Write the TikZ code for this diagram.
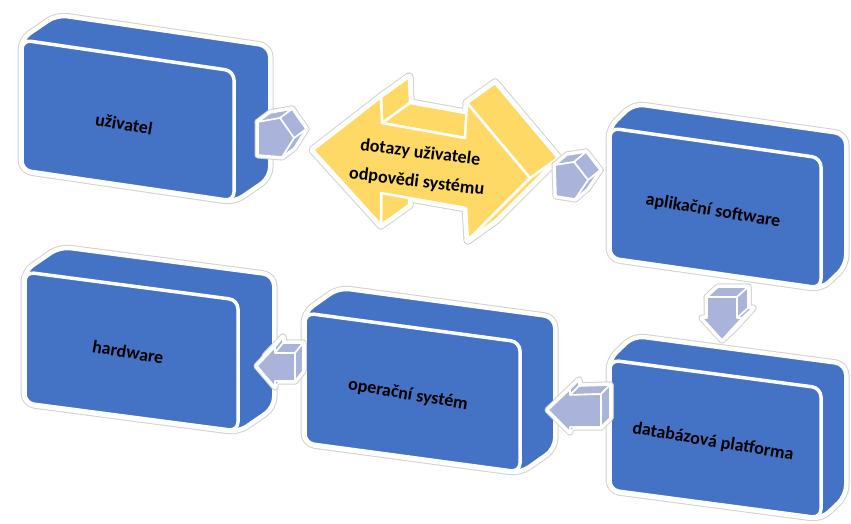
\documentclass[tikz,border=0pt]{standalone}
\usepackage{fontspec}
\setmainfont{Carlito}
\usetikzlibrary{calc}
\definecolor{boxblue}{HTML}{4472C4}
\definecolor{arrowyellow}{HTML}{FFD966}
\definecolor{smallarrow}{HTML}{AAB4DA}
\definecolor{halogray}{HTML}{D2D2D2}
\tikzset{
  haloA/.style={draw=halogray, line width=9pt, line join=round},
  haloB/.style={draw=white, line width=7pt, line join=round},
  shaloA/.style={draw=halogray, line width=7pt, line join=round},
  shaloB/.style={draw=white, line width=5pt, line join=round},
  boxsil/.style={fill=boxblue, draw=white, line width=2pt},
  boxfront/.style={fill=boxblue, draw=white, line width=3.5pt},
  yfill/.style={fill=arrowyellow, draw=white, line width=2.5pt, line join=round},
  sfill/.style={fill=smallarrow, draw=white, line width=1.6pt, line join=round},
  boxtext/.style={font=\bfseries\fontsize{18}{29}\selectfont, text=black, inner sep=0pt},
}
\newcommand{\cubebox}[8]{%
  \coordinate (#1-ftl) at (#2,#3);
  \coordinate (#1-ftr) at ($(#1-ftl)+(#4,#6)$);
  \coordinate (#1-fbr) at ($(#1-ftr)+(0,#5)$);
  \coordinate (#1-fbl) at ($(#1-ftl)+(0,#5)$);
  \coordinate (#1-btl) at ($(#1-ftl)+(#7,#8)$);
  \coordinate (#1-btr) at ($(#1-ftr)+(#7,#8)$);
  \coordinate (#1-bbr) at ($(#1-fbr)+(#7,#8)$);
  \path[haloA,rounded corners=10pt] (#1-fbl) -- (#1-ftl) -- (#1-btl) -- (#1-btr) -- (#1-bbr) -- (#1-fbr) -- cycle;
  \path[haloB,rounded corners=10pt] (#1-fbl) -- (#1-ftl) -- (#1-btl) -- (#1-btr) -- (#1-bbr) -- (#1-fbr) -- cycle;
  \path[boxsil,rounded corners=10pt] (#1-fbl) -- (#1-ftl) -- (#1-btl) -- (#1-btr) -- (#1-bbr) -- (#1-fbr) -- cycle;
  \path[boxfront,rounded corners=9pt] (#1-ftl) -- (#1-ftr) -- (#1-fbr) -- (#1-fbl) -- cycle;
}
\newcommand{\sideface}[4]{\path[#1] (#2) -- (#3) -- ($(#3)+(#4)$) -- ($(#2)+(#4)$) -- cycle;}
% yellow double arrow pieces
\newcommand{\ypieces}[1]{%
  \path[#1] ($(yL)+(yd)$) -- ($(yLBt)+(yd)$) -- ($(yLSt)+(yd)$) -- ($(yRSt)+(yd)$) -- ($(yRBt)+(yd)$) -- ($(yR)+(yd)$) -- ($(yRBb)+(yd)$) -- ($(yRSb)+(yd)$) -- ($(yLSb)+(yd)$) -- ($(yLBb)+(yd)$) -- cycle;
  \sideface{#1}{yLBt}{yLSt}{yd}
  \sideface{#1}{yLSt}{yRSt}{yd}
  \sideface{#1}{yLSb}{yLBb}{yd}
  \sideface{#1}{yR}{yRBb}{yd}
  \sideface{#1}{yRBt}{yR}{yd}
  \path[#1] (yL) -- (yLBt) -- (yLSt) -- (yRSt) -- (yRBt) -- (yR) -- (yRBb) -- (yRSb) -- (yLSb) -- (yLBb) -- cycle;
}
% small pentagon arrow pieces
\newcommand{\apieces}[2]{% #1 style, #2 prefix
  \path[#1] ($(#2p1)+(#2d)$) -- ($(#2p2)+(#2d)$) -- ($(#2p3)+(#2d)$) -- ($(#2p4)+(#2d)$) -- ($(#2p5)+(#2d)$) -- cycle;
  \sideface{#1}{#2p1}{#2p2}{#2d}
  \sideface{#1}{#2p3}{#2p4}{#2d}
  \sideface{#1}{#2p2}{#2p3}{#2d}
  \path[#1] (#2p1) -- (#2p2) -- (#2p3) -- (#2p4) -- (#2p5) -- cycle;
}
% back face of a 7-point block arrow
\newcommand{\bpieces}[2]{%
  \path[#1] ($(#2p1)+(#2d)$) -- ($(#2p2)+(#2d)$) -- ($(#2p3)+(#2d)$) -- ($(#2p4)+(#2d)$) -- ($(#2p5)+(#2d)$) -- ($(#2p6)+(#2d)$) -- ($(#2p7)+(#2d)$) -- cycle;
}
\begin{document}
\begin{tikzpicture}[x=1pt,y=-1pt]
\useasboundingbox (0,0) rectangle (851,524);

% ---------- blue 3D boxes ----------
\cubebox{b1}{22}{40}{212}{130}{31}{35}{-24}
\cubebox{b2}{610}{128}{211}{130}{30}{24}{-23}
\cubebox{b3}{610}{360}{211}{130}{28}{24}{-23}
\cubebox{b4}{305}{313}{215}{130}{29}{34}{-24}
\cubebox{b5}{25}{272}{213}{131}{28}{35}{-24}

\node[boxtext, rotate=-9.5] (t1) at (124,124) {uživatel};
\node[boxtext, rotate=-9.5] (t2) at (713,211) {aplikační software};
\node[boxtext, rotate=-9.5] (t3) at (713,442) {databázová platforma};
\node[boxtext, rotate=-9.5] (t4) at (408,395) {operační systém};
\node[boxtext, rotate=-9.5] (t5) at (128,352) {hardware};

% ---------- yellow double arrow ----------
\coordinate (yd) at (28,-20);
\coordinate (yL) at (313,150);
\coordinate (yLBt) at (381,97);
\coordinate (yLSt) at (382,123);
\coordinate (yRSt) at (465,138);
\coordinate (yRBt) at (467,103);
\coordinate (yR) at (530,178);
\coordinate (yRBb) at (468,240);
\coordinate (yRSb) at (466,208);
\coordinate (yLSb) at (381,193);
\coordinate (yLBb) at (381,225);
\ypieces{haloA}
\ypieces{haloB}
\ypieces{yfill}
\node[boxtext, rotate=-7, align=center] (y1) at (418.5,167.5) {dotazy uživatele\\odpovědi systému};

% ---------- small arrow A ----------
\coordinate (Ad) at (12,-9);
\coordinate (Ap1) at (258,122);
\coordinate (Ap2) at (280,118);
\coordinate (Ap3) at (294,138);
\coordinate (Ap4) at (282,157);
\coordinate (Ap5) at (258,155);
\apieces{shaloA}{A}
\apieces{shaloB}{A}
\apieces{sfill}{A}

% ---------- small arrow B ----------
\coordinate (Bd) at (12,-10);
\coordinate (Bp1) at (555,165);
\coordinate (Bp2) at (574,162);
\coordinate (Bp3) at (588,180);
\coordinate (Bp4) at (575,199);
\coordinate (Bp5) at (556,196);
\apieces{shaloA}{B}
\apieces{shaloB}{B}
\apieces{sfill}{B}

% ---------- small arrow C (down) ----------
\coordinate (Cd) at (11,-10);
\coordinate (Cp1) at (707,297);
\coordinate (Cp2) at (737,297);
\coordinate (Cp3) at (737,318);
\coordinate (Cp4) at (742,318);
\coordinate (Cp5) at (722,340);
\coordinate (Cp6) at (702,318);
\coordinate (Cp7) at (707,318);
\bpieces{shaloA}{C}
\sideface{shaloA}{Cp1}{Cp2}{Cd}\sideface{shaloA}{Cp2}{Cp3}{Cd}\sideface{shaloA}{Cp4}{Cp5}{Cd}
\path[shaloA] (Cp1)--(Cp2)--(Cp3)--(Cp4)--(Cp5)--(Cp6)--(Cp7)--cycle;
\bpieces{shaloB}{C}
\sideface{shaloB}{Cp1}{Cp2}{Cd}\sideface{shaloB}{Cp2}{Cp3}{Cd}\sideface{shaloB}{Cp4}{Cp5}{Cd}
\path[shaloB] (Cp1)--(Cp2)--(Cp3)--(Cp4)--(Cp5)--(Cp6)--(Cp7)--cycle;
\bpieces{sfill}{C}
\sideface{sfill}{Cp1}{Cp2}{Cd}\sideface{sfill}{Cp2}{Cp3}{Cd}\sideface{sfill}{Cp3}{Cp4}{Cd}\sideface{sfill}{Cp4}{Cp5}{Cd}
\path[sfill] (Cp1)--(Cp2)--(Cp3)--(Cp4)--(Cp5)--(Cp6)--(Cp7)--cycle;

% ---------- small arrow D (left) ----------
\coordinate (Dd) at (9,-9);
\coordinate (Dp1) at (548,410);
\coordinate (Dp2) at (570,389);
\coordinate (Dp3) at (570,395);
\coordinate (Dp4) at (601,394);
\coordinate (Dp5) at (601,427);
\coordinate (Dp6) at (570,427);
\coordinate (Dp7) at (570,432);
\bpieces{shaloA}{D}
\sideface{shaloA}{Dp2}{Dp3}{Dd}\sideface{shaloA}{Dp3}{Dp4}{Dd}\sideface{shaloA}{Dp4}{Dp5}{Dd}
\path[shaloA] (Dp1)--(Dp2)--(Dp3)--(Dp4)--(Dp5)--(Dp6)--(Dp7)--cycle;
\bpieces{shaloB}{D}
\sideface{shaloB}{Dp2}{Dp3}{Dd}\sideface{shaloB}{Dp3}{Dp4}{Dd}\sideface{shaloB}{Dp4}{Dp5}{Dd}
\path[shaloB] (Dp1)--(Dp2)--(Dp3)--(Dp4)--(Dp5)--(Dp6)--(Dp7)--cycle;
\bpieces{sfill}{D}
\sideface{sfill}{Dp2}{Dp3}{Dd}\sideface{sfill}{Dp3}{Dp4}{Dd}\sideface{sfill}{Dp4}{Dp5}{Dd}\sideface{sfill}{Dp6}{Dp7}{Dd}
\path[sfill] (Dp1)--(Dp2)--(Dp3)--(Dp4)--(Dp5)--(Dp6)--(Dp7)--cycle;

% ---------- small arrow E (left) ----------
\coordinate (Ed) at (8,-10);
\coordinate (Ep1) at (257,366);
\coordinate (Ep2) at (275,347);
\coordinate (Ep3) at (275,353);
\coordinate (Ep4) at (295,353);
\coordinate (Ep5) at (295,381);
\coordinate (Ep6) at (275,381);
\coordinate (Ep7) at (275,387);
\bpieces{shaloA}{E}
\sideface{shaloA}{Ep2}{Ep3}{Ed}\sideface{shaloA}{Ep3}{Ep4}{Ed}\sideface{shaloA}{Ep4}{Ep5}{Ed}
\path[shaloA] (Ep1)--(Ep2)--(Ep3)--(Ep4)--(Ep5)--(Ep6)--(Ep7)--cycle;
\bpieces{shaloB}{E}
\sideface{shaloB}{Ep2}{Ep3}{Ed}\sideface{shaloB}{Ep3}{Ep4}{Ed}\sideface{shaloB}{Ep4}{Ep5}{Ed}
\path[shaloB] (Ep1)--(Ep2)--(Ep3)--(Ep4)--(Ep5)--(Ep6)--(Ep7)--cycle;
\bpieces{sfill}{E}
\sideface{sfill}{Ep2}{Ep3}{Ed}\sideface{sfill}{Ep3}{Ep4}{Ed}\sideface{sfill}{Ep4}{Ep5}{Ed}\sideface{sfill}{Ep6}{Ep7}{Ed}
\path[sfill] (Ep1)--(Ep2)--(Ep3)--(Ep4)--(Ep5)--(Ep6)--(Ep7)--cycle;
\end{tikzpicture}
\end{document}
